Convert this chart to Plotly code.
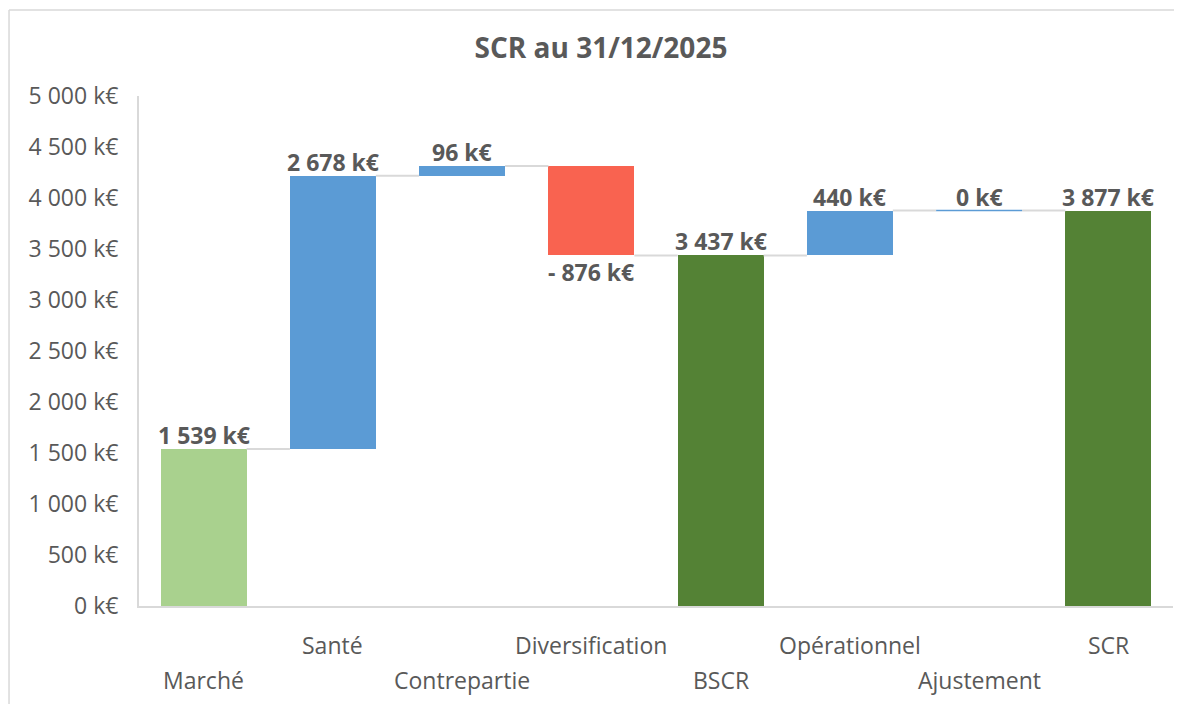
import plotly.graph_objects as go

# ---- data ----
categories = ["Marché", "Santé", "Contrepartie", "Diversification", "BSCR",
              "Opérationnel", "Ajustement", "SCR"]
values = [1539, 2678, 96, -876, 3437, 440, 0, 3877]
measures = ["absolute", "relative", "relative", "relative", "total",
            "relative", "relative", "total"]
bar_colors = ["#A9D18E", "#5B9BD5", "#5B9BD5", "#F96350", "#548235",
              "#5B9BD5", "#5B9BD5", "#548235"]
y_tickvals = [0, 500, 1000, 1500, 2000, 2500, 3000, 3500, 4000, 4500, 5000]
y_ticktext = ["0 k€", "500 k€", "1 000 k€", "1 500 k€", "2 000 k€", "2 500 k€",
              "3 000 k€", "3 500 k€", "4 000 k€", "4 500 k€", "5 000 k€"]
title_text = "SCR au 31/12/2025"

FONT = "Open Sans"
TXT = "#595959"
GRID = "#D9D9D9"
BAR_W = 0.665
W, H = 1174, 696

# ---- waterfall geometry from data ----
bases, heights, levels = [], [], []
running = 0
for v, m in zip(values, measures):
    if m == "absolute":
        base, h = 0, v
        running = v
    elif m == "total":
        base, h = 0, running
    else:
        base, h = running, v
        running = running + v
    bases.append(base)
    heights.append(h)
    levels.append(running)

def fmt(v):
    s = f"{abs(v):,}".replace(",", " ")
    return ("- " if v < 0 else "") + s + " k€"

labels = [fmt(v) for v in values]
xs = list(range(len(categories)))

fig = go.Figure()

# connectors
cx, cy = [], []
for i in range(len(xs) - 1):
    cx += [xs[i] + BAR_W / 2, xs[i + 1] - BAR_W / 2, None]
    cy += [levels[i], levels[i], None]
fig.add_trace(go.Scatter(x=cx, y=cy, mode="lines",
                         line=dict(color=GRID, width=2),
                         hoverinfo="skip", showlegend=False))

# bars
fig.add_trace(go.Bar(x=xs, y=heights, base=bases, width=BAR_W,
                     marker=dict(color=bar_colors, line=dict(width=0)),
                     showlegend=False))

# zero-height bars drawn as a thin line
for i, h in enumerate(heights):
    if h == 0:
        fig.add_trace(go.Scatter(x=[xs[i] - BAR_W / 2, xs[i] + BAR_W / 2],
                                 y=[bases[i], bases[i]], mode="lines",
                                 line=dict(color=bar_colors[i], width=1.5),
                                 hoverinfo="skip", showlegend=False))

# data labels
for i, (b, h) in enumerate(zip(bases, heights)):
    neg = h < 0
    fig.add_annotation(x=xs[i], y=b + h, xref="x", yref="y",
                       text="<b>" + labels[i] + "</b>", showarrow=False,
                       yanchor="middle", yshift=-17 if neg else 14,
                       font=dict(family=FONT, size=23, color=TXT))

# category labels, staggered in two rows
for i, c in enumerate(categories):
    fig.add_annotation(x=xs[i], y=0, xref="x", yref="paper",
                       text=c, showarrow=False, yanchor="middle",
                       yshift=-74 if i % 2 == 0 else -39,
                       font=dict(family=FONT, size=23, color=TXT))

# outer chart border (top and left edges; the rest lies beyond the frame)
fig.add_shape(type="line", xref="paper", yref="paper",
              x0=-0.1257, x1=1.2, y0=1.1686, y1=1.1686,
              line=dict(color=GRID, width=1.5), layer="below")
fig.add_shape(type="line", xref="paper", yref="paper",
              x0=-0.1257, x1=-0.1257, y0=-0.3, y1=1.1686,
              line=dict(color=GRID, width=1.5), layer="below")

fig.update_layout(
    width=W, height=H,
    margin=dict(l=131, r=9, t=88, b=98),
    paper_bgcolor="white", plot_bgcolor="white",
    title=dict(text=title_text, x=593 / W, xanchor="center",
               y=1 - 40 / H, yanchor="middle",
               font=dict(family=FONT, size=28, color=TXT, weight="bold")),
    bargap=0,
    xaxis=dict(range=[-0.5, len(categories) - 0.5], showticklabels=False,
               showgrid=False, zeroline=False, showline=True,
               linecolor=GRID, linewidth=2, ticks=""),
    yaxis=dict(range=[0, 5000], tickvals=y_tickvals, ticktext=y_ticktext,
               showgrid=False, zeroline=False, showline=True,
               linecolor=GRID, linewidth=2, ticks="",
               ticklabelstandoff=14,
               tickfont=dict(family=FONT, size=23, color=TXT)),
)

fig.write_html("out.html")
